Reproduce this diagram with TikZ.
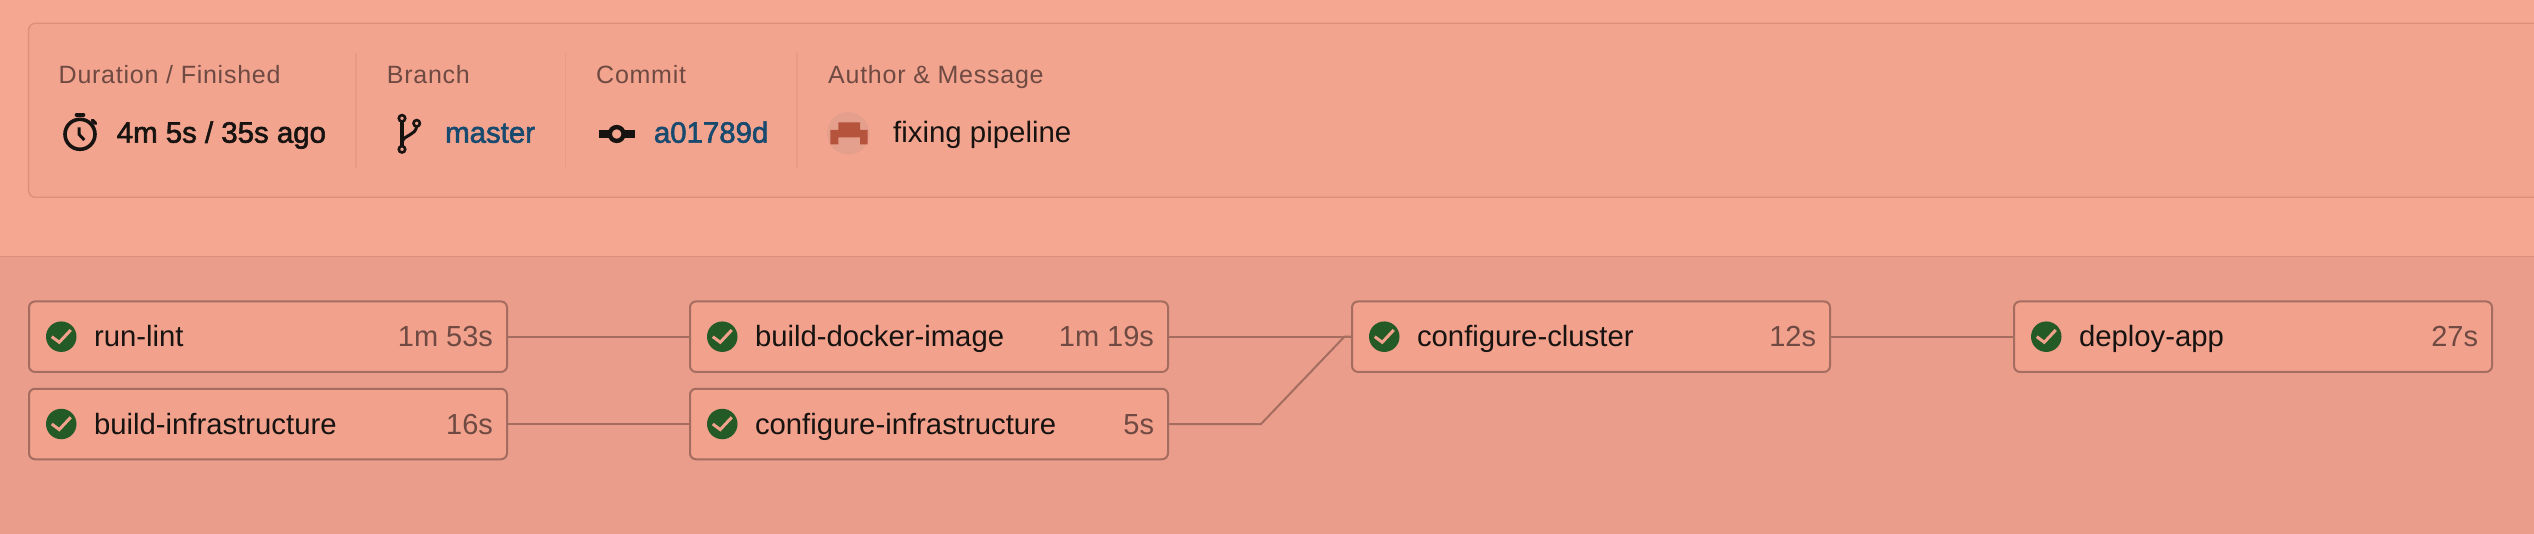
\documentclass[tikz,border=0pt]{standalone}
\usepackage{xcolor}
\usepackage{fontspec}
\setmainfont{Liberation Sans}
\newfontfamily\mediumfont[FakeBold=2]{Liberation Sans}
\newfontfamily\labelfont[LetterSpace=3]{Liberation Sans}
\usetikzlibrary{positioning}

\definecolor{topbg}{HTML}{F5A792}
\definecolor{cardbg}{HTML}{F3A48F}
\definecolor{cardline}{HTML}{DF8E7C}
\definecolor{splitline}{HTML}{EB9A86}
\definecolor{lowbg}{HTML}{E99D8A}
\definecolor{cellbg}{HTML}{F2A18D}
\definecolor{cellline}{HTML}{A56D60}
\definecolor{okgreen}{HTML}{235A26}
\definecolor{inktext}{HTML}{171311}
\definecolor{softtext}{HTML}{6E4A42}
\definecolor{linktext}{HTML}{174A6E}
\definecolor{avatarbg}{HTML}{E59F8D}
\definecolor{avatarfg}{HTML}{B5533C}

\begin{document}
\begin{tikzpicture}
  [
    x=1pt, y=-1pt,
    cell/.style={
      draw=cellline,
      fill=cellbg,
      line width=2pt,
      rounded corners=6pt,
      inner sep=0pt,
      outer sep=0pt,
      minimum width=478pt,
      minimum height=70.5pt
    },
    okmark/.style={circle,fill=okgreen,inner sep=0pt,outer sep=0pt,minimum size=30.5pt},
    tickline/.style={draw=cellbg,line width=3pt},
    jobname/.style={
      inner sep=0pt, outer sep=0pt, text height=26pt, text depth=6pt,
      text=inktext, font=\fontsize{29.3}{34}\selectfont
    },
    jobtime/.style={jobname, text=softtext, font=\fontsize{29}{34}\selectfont},
    link/.style={draw=cellline,line width=2pt,shorten <=1pt},
    toplabel/.style={
      anchor=base west, inner sep=0pt, text=softtext,
      font=\fontsize{25}{30}\selectfont\labelfont
    },
    topvalue/.style={
      anchor=base west, inner sep=0pt, text=inktext,
      font=\fontsize{29.4}{34}\selectfont\mediumfont
    },
    topfield/.style={topvalue, text=linktext},
    split/.style={draw=splitline,line width=1.4pt},
    iconline/.style={draw=inktext,line width=3.6pt}
  ]
  \useasboundingbox (0,0) rectangle (2534,534);
  \fill [topbg] (0,0) rectangle (2534,256.3);
  \fill [lowbg] (0,256.3) rectangle (2534,534);
  \draw [cardline,line width=1.4pt] (0,256.3) -- (2534,256.3);
  \draw [draw=cardline,fill=cardbg,line width=1.4pt,rounded corners=7pt]
  		(2534,23.3) -- (28.5,23.3) -- (28.5,197.3) -- (2534,197.3);

  \draw [split] (356,52.7) -- (356,167.7);
  \draw [split] (565.5,52.7) -- (565.5,167.7);
  \draw [split] (797,52.7) -- (797,167.7);

  \node (l0) at (58.5,83.3) [toplabel] {Duration / Finished};
  \node (l1) at (386.7,83.3) [toplabel] {Branch};
  \node (l2) at (596,83.3) [toplabel] {Commit};
  \node (l3) at (828,83.3) [toplabel] {Author \& Message};

  \node (v0) at (116.6,142.7) [topvalue] {4m 5s / 35s ago};
  \node (v1) at (445,142.7) [topfield] {master};
  \node (v2) at (653.7,142.7) [topfield] {a01789d};
  \node (v3) at (893,142.7) [topvalue] {\normalfont\fontsize{29.4}{34}\selectfont fixing pipeline};

  \draw [iconline] (80,134.3) circle (15);
  \draw [iconline,line cap=round] (76.5,115) -- (83.5,115);
  \draw [iconline,line cap=round] (92.5,120.5) -- (95.5,123.3);
  \draw [iconline,line width=3pt] (79,127.3) -- (79,134.3) -- (84.3,140);

  \draw [iconline,line width=2.6pt] (402,118.3) circle (3.2);
  \draw [iconline,line width=2.6pt] (416.7,123.3) circle (3.2);
  \draw [iconline,line width=2.6pt] (402,149.3) circle (3.2);
  \draw [iconline,line width=3.2pt] (402,121.5) -- (402,146);
  \draw [iconline,line width=3pt] (416.7,126.5) .. controls (415,136) and (405,134) .. (402,142);

  \draw [iconline,line width=7.6pt] (599,134) -- (609,134);
  \draw [iconline,line width=7.6pt] (625,134) -- (635,134);
  \draw [iconline,line width=4.4pt] (616.7,134) circle (6.9);

  \node (av) at (848.3,133.3) [circle,fill=avatarbg,inner sep=0pt,minimum size=42.6pt] {};
  \fill [avatarfg] (838.3,122.3) -- (860,122.3) -- (860,130) -- (867.7,130) -- (867.7,144.3)
  		-- (860,144.3) -- (860,137.3) -- (838.3,137.3) -- (838.3,144.3) -- (830.3,144.3)
  		-- (830.3,130) -- (838.3,130) -- cycle;

  \node (a0) at (268,336.7) [cell] {};
  \node (a1) at (929,336.7) [cell] {};
  \node (a2) at (1591,336.7) [cell] {};
  \node (a3) at (2253,336.7) [cell] {};
  \node (b0) at (268,424) [cell] {};
  \node (b1) at (929,424) [cell] {};

  \node (c0) [okmark, right=17pt of a0.west] {};
  \node (c1) [okmark, right=17pt of a1.west] {};
  \node (c2) [okmark, right=17pt of a2.west] {};
  \node (c3) [okmark, right=17pt of a3.west] {};
  \node (d0) [okmark, right=17pt of b0.west] {};
  \node (d1) [okmark, right=17pt of b1.west] {};

  \foreach \mk in {c0,c1,c2,c3,d0,d1}
    \draw [tickline,shift={(\mk.center)}] (-9.5,0) -- (-2,5.6) -- (9.5,-6.7);

  \node (n0) [jobname, right=17.5pt of c0] {run-lint};
  \node (n1) [jobname, right=17.5pt of c1] {build-docker-image};
  \node (n2) [jobname, right=17.5pt of c2] {configure-cluster};
  \node (n3) [jobname, right=17.5pt of c3] {deploy-app};
  \node (m0) [jobname, right=17.5pt of d0] {build-infrastructure};
  \node (m1) [jobname, right=17.5pt of d1] {configure-infrastructure};

  \node (t0) [jobtime, left=14pt of a0.east] {1m 53s};
  \node (t1) [jobtime, left=14pt of a1.east] {1m 19s};
  \node (t2) [jobtime, left=14pt of a2.east] {12s};
  \node (t3) [jobtime, left=14pt of a3.east] {27s};
  \node (u0) [jobtime, left=14pt of b0.east] {16s};
  \node (u1) [jobtime, left=14pt of b1.east] {5s};

  \coordinate (k0) at (1261,424);
  \coordinate (k1) at (1344.4,336.7);

  \draw [link] (a0.east) -- (a1.west);
  \draw [link] (b0.east) -- (b1.west);
  \draw [link] (a1.east) -- (a2.west);
  \draw [link] (b1.east) -- (k0) -- (k1) -- (a2.west);
  \draw [link] (a2.east) -- (a3.west);
\end{tikzpicture}
\end{document}
